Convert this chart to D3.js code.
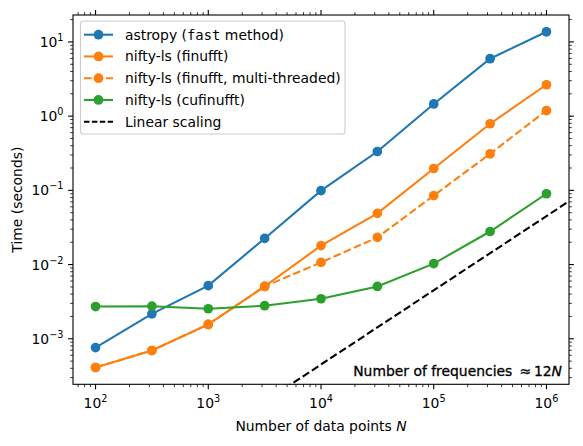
<!DOCTYPE html>
<html>
<head>
<meta charset="utf-8">
<script src="https://cdn.jsdelivr.net/npm/d3@7"></script>
<style>
    body { margin: 0; background: #fff; }
    svg { display: block; font-family: "DejaVu Sans", sans-serif; }
</style>
</head>
<body>
<svg id="chart" width="583" height="446"></svg>
<script>
"use strict";

// data
const nPoints = [100, 316.2, 1000, 3162, 10000, 31623, 100000, 316228, 1000000];
const astropyTimes = [7.6e-4, 2.17e-3, 5.2e-3, 0.0225, 0.099, 0.334, 1.46, 5.94, 13.7];
const finufftTimes = [4.1e-4, 6.95e-4, 1.56e-3, 5.07e-3, 0.018, 0.049, 0.197, 0.79, 2.65];
const finufftMtTimes = [4.1e-4, 6.95e-4, 1.56e-3, 5.07e-3, 0.0107, 0.0232, 0.085, 0.311, 1.19];
const cufinufftTimes = [2.72e-3, 2.75e-3, 2.54e-3, 2.79e-3, 3.46e-3, 5.07e-3, 0.0103, 0.0279, 0.09];
const linearCoef = 4.5e-8;
const xTickExp = [2, 3, 4, 5, 6];
const yTickExp = [-3, -2, -1, 0, 1];

const series = [
    { label: "astropy", values: astropyTimes, color: "#1f77b4", dash: null },
    { label: "nifty-ls (finufft)", values: finufftTimes, color: "#ff7f0e", dash: null },
    { label: "nifty-ls (finufft, multi-threaded)", values: finufftMtTimes, color: "#ff7f0e", dash: "7.7,3.3" },
    { label: "nifty-ls (cufinufft)", values: cufinufftTimes, color: "#2ca02c", dash: null }
];



// consts
const plot = { left: 73, right: 569, top: 15, bottom: 384.3 },
      fontSize = 13.9,
      majorLen = 4.9,
      minorLen = 2.8,
      markerR = 4.85;

let svg = d3.select("#chart");



// domains with 5% margins in log space (like matplotlib)
function logDomain(vals) {
    let lo = Math.log10(d3.min(vals)), hi = Math.log10(d3.max(vals));
    let pad = (hi - lo) * 0.05;
    return [Math.pow(10, lo - pad), Math.pow(10, hi + pad)];
}
let allTimes = [].concat(...series.map(s => s.values));



// scales
let scaleX = d3.scaleLog().domain(logDomain(nPoints)).range([plot.left, plot.right]);
let scaleY = d3.scaleLog().domain(logDomain(allTimes)).range([plot.bottom, plot.top]);



// clip
svg.append("defs").append("clipPath").attr("id", "clip")
.append("rect")
.attr("x", plot.left).attr("y", plot.top)
.attr("width", plot.right - plot.left).attr("height", plot.bottom - plot.top);



// minor + major ticks on all four sides
function tickValues(scale) {
    let [a, b] = scale.domain();
    let major = [], minor = [];
    for (let e = Math.floor(Math.log10(a)); e <= Math.ceil(Math.log10(b)); e++) {
        for (let m = 1; m < 10; m++) {
            let v = m * Math.pow(10, e);
            if (v < a || v > b) continue;
            (m == 1 ? major : minor).push(v);
        }
    }
    return { major, minor };
}
let ticks = svg.append("g").attr("class", "ticks").attr("stroke", "#000");
let tx = tickValues(scaleX), ty = tickValues(scaleY);
[[tx.major, majorLen, 1.1], [tx.minor, minorLen, 0.8]].forEach(([vals, len, w]) => {
    vals.forEach(v => {
        let x = scaleX(v);
        ticks.append("line").attr("x1", x).attr("x2", x).attr("y1", plot.bottom).attr("y2", plot.bottom + len).attr("stroke-width", w);
        ticks.append("line").attr("x1", x).attr("x2", x).attr("y1", plot.top).attr("y2", plot.top - len).attr("stroke-width", w);
    });
});
[[ty.major, majorLen, 1.1], [ty.minor, minorLen, 0.8]].forEach(([vals, len, w]) => {
    vals.forEach(v => {
        let y = scaleY(v);
        ticks.append("line").attr("y1", y).attr("y2", y).attr("x1", plot.left).attr("x2", plot.left - len).attr("stroke-width", w);
        ticks.append("line").attr("y1", y).attr("y2", y).attr("x1", plot.right).attr("x2", plot.right + len).attr("stroke-width", w);
    });
});



// tick labels
function powLabel(sel, exp) {
    sel.append("tspan").text("10");
    sel.append("tspan").attr("font-size", fontSize * 0.7).attr("dy", -6).text(exp < 0 ? "\u2212" + (-exp) : exp);
}
xTickExp.forEach(e => {
    svg.append("text")
    .attr("x", scaleX(Math.pow(10, e))).attr("y", 408)
    .attr("text-anchor", "middle").attr("font-size", fontSize)
    .call(powLabel, e);
});
yTickExp.forEach(e => {
    svg.append("text")
    .attr("x", 63.5).attr("y", scaleY(Math.pow(10, e)) + 5)
    .attr("text-anchor", "end").attr("font-size", fontSize)
    .call(powLabel, e);
});



// axis labels
let xLabel = svg.append("text")
.attr("x", (plot.left + plot.right) / 2).attr("y", 431)
.attr("text-anchor", "middle").attr("font-size", fontSize);
xLabel.append("tspan").text("Number of data points ");
xLabel.append("tspan").attr("font-style", "italic").text("N");

svg.append("text")
.attr("transform", `translate(21.5, ${(plot.top + plot.bottom) / 2}) rotate(-90)`)
.attr("text-anchor", "middle").attr("font-size", fontSize)
.text("Time (seconds)");



// linear scaling reference line
let lineGen = d3.line().x(d => scaleX(d[0])).y(d => scaleY(d[1]));
let refDomain = scaleX.domain();
svg.append("path")
.datum(refDomain.map(n => [n, linearCoef * n]))
.attr("d", lineGen)
.attr("fill", "none").attr("stroke", "#000").attr("stroke-width", 2.08)
.attr("stroke-dasharray", "7.7,3.3")
.attr("clip-path", "url(#clip)");



// drawing series
series.forEach(s => {
    let g = svg.append("g").attr("class", "series");
    let pts = nPoints.map((n, i) => [n, s.values[i]]);
    g.append("path")
    .datum(pts)
    .attr("d", lineGen)
    .attr("fill", "none").attr("stroke", s.color).attr("stroke-width", 2.08)
    .attr("stroke-dasharray", s.dash)
    .attr("clip-path", "url(#clip)");
    g.selectAll("circle").data(pts).join("circle")
    .attr("cx", d => scaleX(d[0])).attr("cy", d => scaleY(d[1]))
    .attr("r", markerR).attr("fill", s.color);
});



// annotation
svg.append("text")
.attr("x", 562).attr("y", 376)
.attr("text-anchor", "end").attr("font-size", fontSize)
.attr("stroke", "#000").attr("stroke-width", 0.3)
.call(t => {
    t.append("tspan").text("Number of frequencies \u2009\u2248\u2009");
    t.append("tspan").text("12");
    t.append("tspan").attr("font-style", "italic").text("N");
});



// spines
svg.append("rect")
.attr("x", plot.left).attr("y", plot.top)
.attr("width", plot.right - plot.left).attr("height", plot.bottom - plot.top)
.attr("fill", "none").attr("stroke", "#000").attr("stroke-width", 1.1);



// legend
let legend = svg.append("g").attr("class", "legend");
legend.append("rect")
.attr("x", 80.5).attr("y", 21).attr("width", 264.5).attr("height", 113).attr("rx", 2.8)
.attr("fill", "#fff").attr("fill-opacity", 0.8).attr("stroke", "#cccccc").attr("stroke-width", 1.1);
let legendItems = series.concat([{ label: "Linear scaling", color: "#000", dash: "5.5,2.4", noMarker: true }]);
legendItems.forEach((s, i) => {
    let y = 34.7 + i * 21.75;
    legend.append("line")
    .attr("x1", 84).attr("x2", 113).attr("y1", y).attr("y2", y)
    .attr("stroke", s.color).attr("stroke-width", 2.08)
    .attr("stroke-dasharray", s.noMarker ? "5.5,2.4" : (s.dash ? "7.7,3.3" : null));
    if (!s.noMarker) {
        legend.append("circle").attr("cx", 98.5).attr("cy", y).attr("r", markerR).attr("fill", s.color);
    }
    let t = legend.append("text").attr("x", 125).attr("y", y + 5).attr("font-size", fontSize);
    if (i == 0) {
        t.append("tspan").text("astropy (");
        t.append("tspan").attr("font-family", "DejaVu Sans Mono").text("fast");
        t.append("tspan").text(" method)");
    } else {
        t.text(s.label);
    }
});
</script>
</body>
</html>
